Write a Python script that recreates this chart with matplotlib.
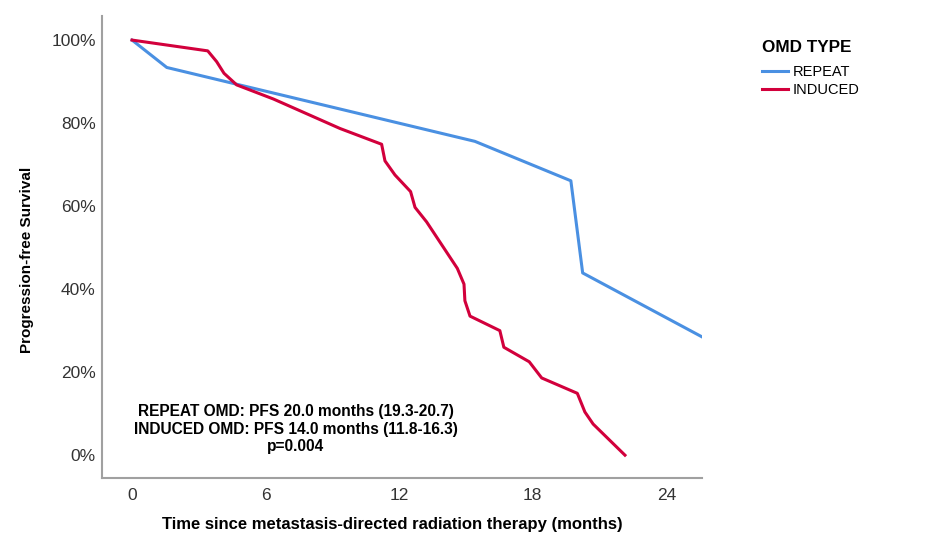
import matplotlib
matplotlib.use("Agg")
import matplotlib.pyplot as plt
from matplotlib.ticker import FuncFormatter

plt.rcParams['font.family'] = ['Liberation Sans', 'DejaVu Sans']

# REPEAT OMD curve (months, % progression-free)
repeat_t = [0.0, 1.56, 15.40, 19.71, 20.24, 25.6]
repeat_s = [100.0, 93.4, 75.6, 66.1, 43.9, 28.5]

# INDUCED OMD curve
induced_t = [0.0, 3.40, 3.80, 4.13, 4.70, 6.35, 9.34, 11.21, 11.36, 11.81, 12.51,
             12.71, 13.23, 14.61, 14.91, 14.95, 15.18, 16.52, 16.70, 17.84, 18.40,
             20.00, 20.34, 20.71, 22.14]
induced_s = [100.0, 97.4, 94.8, 92.0, 89.2, 85.8, 78.7, 74.9, 70.9, 67.5, 63.5,
             59.7, 56.2, 45.0, 41.2, 37.2, 33.5, 30.0, 26.0, 22.5, 18.6,
             14.9, 10.4, 7.5, 0.0]

x_ticks = [0, 6, 12, 18, 24]
y_ticks = [0, 20, 40, 60, 80, 100]

annot_lines = ["REPEAT OMD: PFS 20.0 months (19.3-20.7)",
               "INDUCED OMD: PFS 14.0 months (11.8-16.3)",
               "p=0.004"]

fig = plt.figure(figsize=(9.4, 5.53), dpi=100)
ax = fig.add_axes([102/940, 75/553, 600/940, 462/553])

ax.plot(repeat_t, repeat_s, color='#4a90e2', lw=2.2, label='REPEAT')
ax.plot(induced_t, induced_s, color='#d2003c', lw=2.2, label='INDUCED')

ax.set_xlim(-1.35, 25.6)
ax.set_ylim(-5.5, 105.8)
ax.set_xticks(x_ticks)
ax.set_yticks(y_ticks)
ax.yaxis.set_major_formatter(FuncFormatter(lambda v, p: f"{int(v)}%"))
ax.tick_params(length=0, labelsize=12.5, labelcolor='#333333')
ax.tick_params(axis='y', pad=4.5)
ax.tick_params(axis='x', pad=7)
for s in ['top', 'right']:
    ax.spines[s].set_visible(False)
for s in ['left', 'bottom']:
    ax.spines[s].set_color('#a0a0a0')
    ax.spines[s].set_linewidth(1.5)

ax.set_xlabel("Time since metastasis-directed radiation therapy (months)",
              fontsize=12, fontweight='bold')
ax.xaxis.set_label_coords((392 - 102) / 600, -(524 - 478) / 462)
ax.xaxis.label.set_va('center')
ax.set_ylabel("Progression-free Survival", fontsize=11, fontweight='bold')
ax.yaxis.set_label_coords(-(102 - 27) / 600, (478 - 260) / 462)
ax.yaxis.label.set_va('center')

ax.text(7.34, 6.3, "\n".join(annot_lines), ha='center', va='center',
        fontsize=11.2, fontweight='bold', linespacing=1.2)

fig.text(762 / 940, 1 - 48 / 553, "OMD TYPE", fontsize=12.3, fontweight='bold',
         ha='left', va='center')
leg = ax.legend(loc='upper left', bbox_to_anchor=(762 / 940, 1 - 65 / 553),
                bbox_transform=fig.transFigure,
                frameon=False, fontsize=10.5, borderpad=0, borderaxespad=0,
                handlelength=1.78, handletextpad=0.35, labelspacing=0.25)

fig.savefig("out.png", dpi=100)
